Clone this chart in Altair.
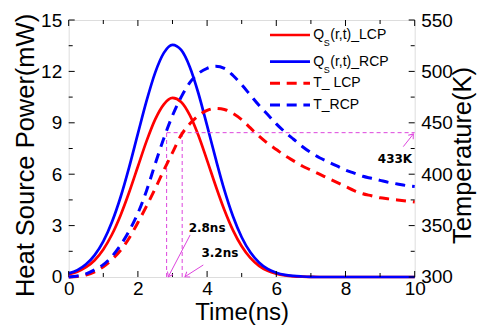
import altair as alt
import pandas as pd

# ---------------- data ----------------
time_ns = [0.0, 0.25, 0.5, 0.75, 1.0, 1.25, 1.5, 1.75, 2.0, 2.25, 2.5, 2.75,
           3.0, 3.25, 3.5, 3.75, 4.0, 4.25, 4.5, 4.75, 5.0, 5.25, 5.5, 5.75,
           6.0, 6.25, 6.5, 6.75, 7.0, 7.25, 7.5, 7.75, 8.0, 8.25, 8.5, 8.75,
           9.0, 9.25, 9.5, 9.75, 10.0]

q_lcp = [0.16, 0.31, 0.57, 0.98, 1.61, 2.48, 3.61, 4.96, 6.45, 7.93, 9.20, 10.08,
         10.45, 10.22, 9.45, 8.26, 6.81, 5.31, 3.91, 2.72, 1.79, 1.11, 0.65, 0.36,
         0.19, 0.09, 0.04, 0.02, 0.01, 0, 0, 0, 0, 0, 0, 0,
         0, 0, 0, 0, 0]

q_rcp = [0.21, 0.40, 0.74, 1.28, 2.08, 3.21, 4.67, 6.43, 8.37, 10.28, 11.93, 13.08,
         13.55, 13.25, 12.26, 10.71, 8.83, 6.89, 5.07, 3.53, 2.32, 1.44, 0.85, 0.47,
         0.25, 0.12, 0.06, 0.03, 0.01, 0, 0, 0, 0, 0, 0, 0,
         0, 0, 0, 0, 0]

t_lcp = [300, 300.5, 302, 305, 310, 317, 326, 338, 353, 369, 386, 404,
         421, 438, 449, 457, 462, 464, 463, 459, 453, 445, 437, 430,
         424, 418, 413, 408, 404, 400, 396, 392, 388, 384, 381, 379,
         377, 376, 375, 374, 373]

t_rcp = [300, 301, 303, 307, 312, 320, 331, 345, 362, 384, 410, 435,
         457, 475, 489, 498, 503, 505, 503, 496, 487, 477, 467, 458,
         449, 441, 434, 427, 421, 416, 412, 408, 404, 401, 398, 396,
         394, 392, 390.5, 389, 388]

x_labels = [0, 2, 4, 6, 8, 10]
x_minor = [1, 3, 5, 7, 9]
q_labels = [0, 3, 6, 9, 12, 15]
q_minor = [1.5, 4.5, 7.5, 10.5, 13.5]
temp_labels = [300, 350, 400, 450, 500, 550]
temp_minor = [325, 375, 425, 475, 525]

# annotation values (time in ns, temperature in K)
guide_times = [2.83, 3.28]
guide_temp = 440.4
arrow_t_start = [3.51, 3.89, 9.67]
arrow_T_start = [340.9, 311.7, 426.8]
arrow_t_end = [2.88, 3.36, 9.96]
arrow_T_end = [300.3, 300.3, 439.1]
arrow_angle = [117.5, 147.4, 308.2]
note_text = ["2.8ns", "3.2ns", "433K"]
note_t = [4.0, 4.37, 9.43]
note_T = [347.7, 323.3, 415.0]

# ---------------- styling ----------------
W, H = 346, 257
RED, BLUE, MAG = "#ff0000", "#0000ff", "#dd44dd"
FONT = "Liberation Sans"

qdf = pd.DataFrame({"t": time_ns * 2, "q": q_lcp + q_rcp,
                    "series": ["LCP"] * len(time_ns) + ["RCP"] * len(time_ns)})
tdf = pd.DataFrame({"t": time_ns * 2, "T": t_lcp + t_rcp,
                    "series": ["LCP"] * len(time_ns) + ["RCP"] * len(time_ns)})

X = alt.X("t:Q", scale=alt.Scale(domain=[0, 10], nice=False, zero=False),
          axis=alt.Axis(values=x_labels, title="Time(ns)", ticks=False, domain=False,
                        grid=False, labelFont=FONT, labelFontSize=19, labelColor="black",
                        labelPadding=3, labelFlush=False, labelOverlap=False,
                        titleFont=FONT, titleFontSize=24, titleFontWeight="normal",
                        titleColor="black", titlePadding=2))
YQ = alt.Y("q:Q", scale=alt.Scale(domain=[0, 15], nice=False, zero=False),
           axis=alt.Axis(values=q_labels, title="Heat Source Power(mW)", orient="left",
                         ticks=False, domain=False, grid=False, labelFont=FONT,
                         labelFontSize=19, labelColor="black", labelPadding=7,
                         labelFlush=False, labelOverlap=False, titleFont=FONT,
                         titleFontSize=25.5, titleFontWeight="normal", titleColor="black",
                         titlePadding=2, titleY=135))
YT = alt.Y("T:Q", scale=alt.Scale(domain=[300, 550], nice=False, zero=False),
           axis=alt.Axis(values=temp_labels, title="Temperature(K)", orient="right",
                         ticks=False, domain=False, grid=False, labelFont=FONT,
                         labelFontSize=19, labelColor="black", labelPadding=6,
                         labelFlush=False, labelOverlap=False, titleFont=FONT,
                         titleFontSize=25.5, titleFontWeight="normal", titleColor="black",
                         titleAngle=270, titleBaseline="top", titlePadding=-1.5, titleY=135))

color_scale = alt.Scale(domain=["LCP", "RCP"], range=[RED, BLUE])

# ---- Q group (left axis) ----
q_lines = alt.Chart(qdf).mark_line(strokeWidth=2.7, interpolate="monotone").encode(
    x=X, y=YQ, color=alt.Color("series:N", scale=color_scale, legend=None),
    detail="series:N")

def yticks(vals, length):
    return alt.Chart(pd.DataFrame({"q": vals})).mark_rule(color="black", strokeWidth=1).encode(
        y=YQ, x=alt.value(0), x2=alt.value(length))

def xticks(vals, length):
    d = pd.DataFrame({"t": vals})
    bottom = alt.Chart(d).mark_rule(color="black", strokeWidth=1).encode(
        x=X, y=alt.value(H), y2=alt.value(H - length))
    top = alt.Chart(d).mark_rule(color="black", strokeWidth=1).encode(
        x=X, y=alt.value(0), y2=alt.value(length))
    return bottom + top

q_group = alt.layer(q_lines, yticks(q_labels, 6), yticks(q_minor, 4),
                    xticks(x_labels, 6), xticks(x_minor, 4))

# ---- T group (right axis) ----
def tticks(vals, length):
    return alt.Chart(pd.DataFrame({"T": vals})).mark_rule(color="black", strokeWidth=1).encode(
        y=YT, x=alt.value(W), x2=alt.value(W - length))

hline = alt.Chart(pd.DataFrame({"t": [guide_times[0]], "t2": [10.0], "T": [guide_temp]})).mark_rule(
    color=MAG, strokeWidth=1, strokeDash=[4, 3]).encode(x=X, x2="t2:Q", y=YT)
vlines = alt.Chart(pd.DataFrame({"t": guide_times, "T": [300.0, 300.0],
                                 "T2": [guide_temp, guide_temp]})).mark_rule(
    color=MAG, strokeWidth=1, strokeDash=[4, 3]).encode(x=X, y=YT, y2="T2:Q")
arrows_df = pd.DataFrame({"t": arrow_t_start, "T": arrow_T_start,
                          "t2": arrow_t_end, "T2": arrow_T_end})
arrows = alt.Chart(arrows_df).mark_rule(color=MAG, strokeWidth=1).encode(
    x=X, y=YT, x2="t2:Q", y2="T2:Q")
heads = alt.Chart(pd.DataFrame({"t": arrow_t_end, "T": arrow_T_end, "ang": arrow_angle})).mark_point(
    shape="M-1,-0.75L0,0L-1,0.75", filled=False, color=MAG, strokeWidth=1, size=70, opacity=1).encode(
    x=X, y=YT, angle=alt.Angle("ang:Q", scale=None))
notes = alt.Chart(pd.DataFrame({"t": note_t, "T": note_T, "txt": note_text})).mark_text(
    font="DejaVu Sans", fontSize=12, fontWeight="bold", color="black").encode(
    x=X, y=YT, text="txt:N")

t_lines = alt.Chart(tdf).mark_line(strokeWidth=3, strokeDash=[10, 7], interpolate="monotone").encode(
    x=X, y=YT, color=alt.Color("series:N", scale=color_scale, legend=None),
    detail="series:N")

# ---- manual legend ----
one = pd.DataFrame({"a": [0]})
LX1, LX2, TX = 201.3, 241.3, 244.6
rows = [15, 41.7, 63.3, 85]

def leg_line(color, y, dashed):
    kw = dict(color=color, strokeWidth=2.7)
    if dashed:
        kw["strokeDash"] = [10, 6.7]
        kw["strokeWidth"] = 3
    return alt.Chart(one).mark_rule(**kw).encode(
        x=alt.value(LX1), x2=alt.value(LX2), y=alt.value(y))

def leg_text(txt, x, y, size=14):
    return alt.Chart(one).mark_text(text=txt, align="left", baseline="middle", font=FONT,
                                    fontSize=size, color="black").encode(
        x=alt.value(x), y=alt.value(y))

legend = alt.layer(
    leg_line(RED, rows[0], False), leg_text("Q", TX, rows[0]),
    leg_text("S", TX + 10.5, rows[0] + 8, 9), leg_text("(r,t)_LCP", TX + 17, rows[0]),
    leg_line(BLUE, rows[1], False), leg_text("Q", TX, rows[1]),
    leg_text("S", TX + 10.5, rows[1] + 8, 9), leg_text("(r,t)_RCP", TX + 17, rows[1]),
    leg_line(RED, rows[2], True), leg_text("T_ LCP", TX, rows[2]),
    leg_line(BLUE, rows[3], True), leg_text("T_RCP", TX, rows[3]),
)

t_group = alt.layer(hline, vlines, arrows, heads, notes, t_lines,
                    tticks(temp_labels, 6), tticks(temp_minor, 4), legend)

chart = alt.layer(q_group, t_group).resolve_scale(y="independent").properties(
    width=W, height=H,
    autosize=alt.AutoSizeParams(type="none"),
    padding={"left": 60.7, "top": 12, "right": 62, "bottom": 48},
).configure_view(stroke="black", strokeWidth=1).configure(background="white")

chart.save("out.html", embed_options={"renderer": "svg", "actions": False})
